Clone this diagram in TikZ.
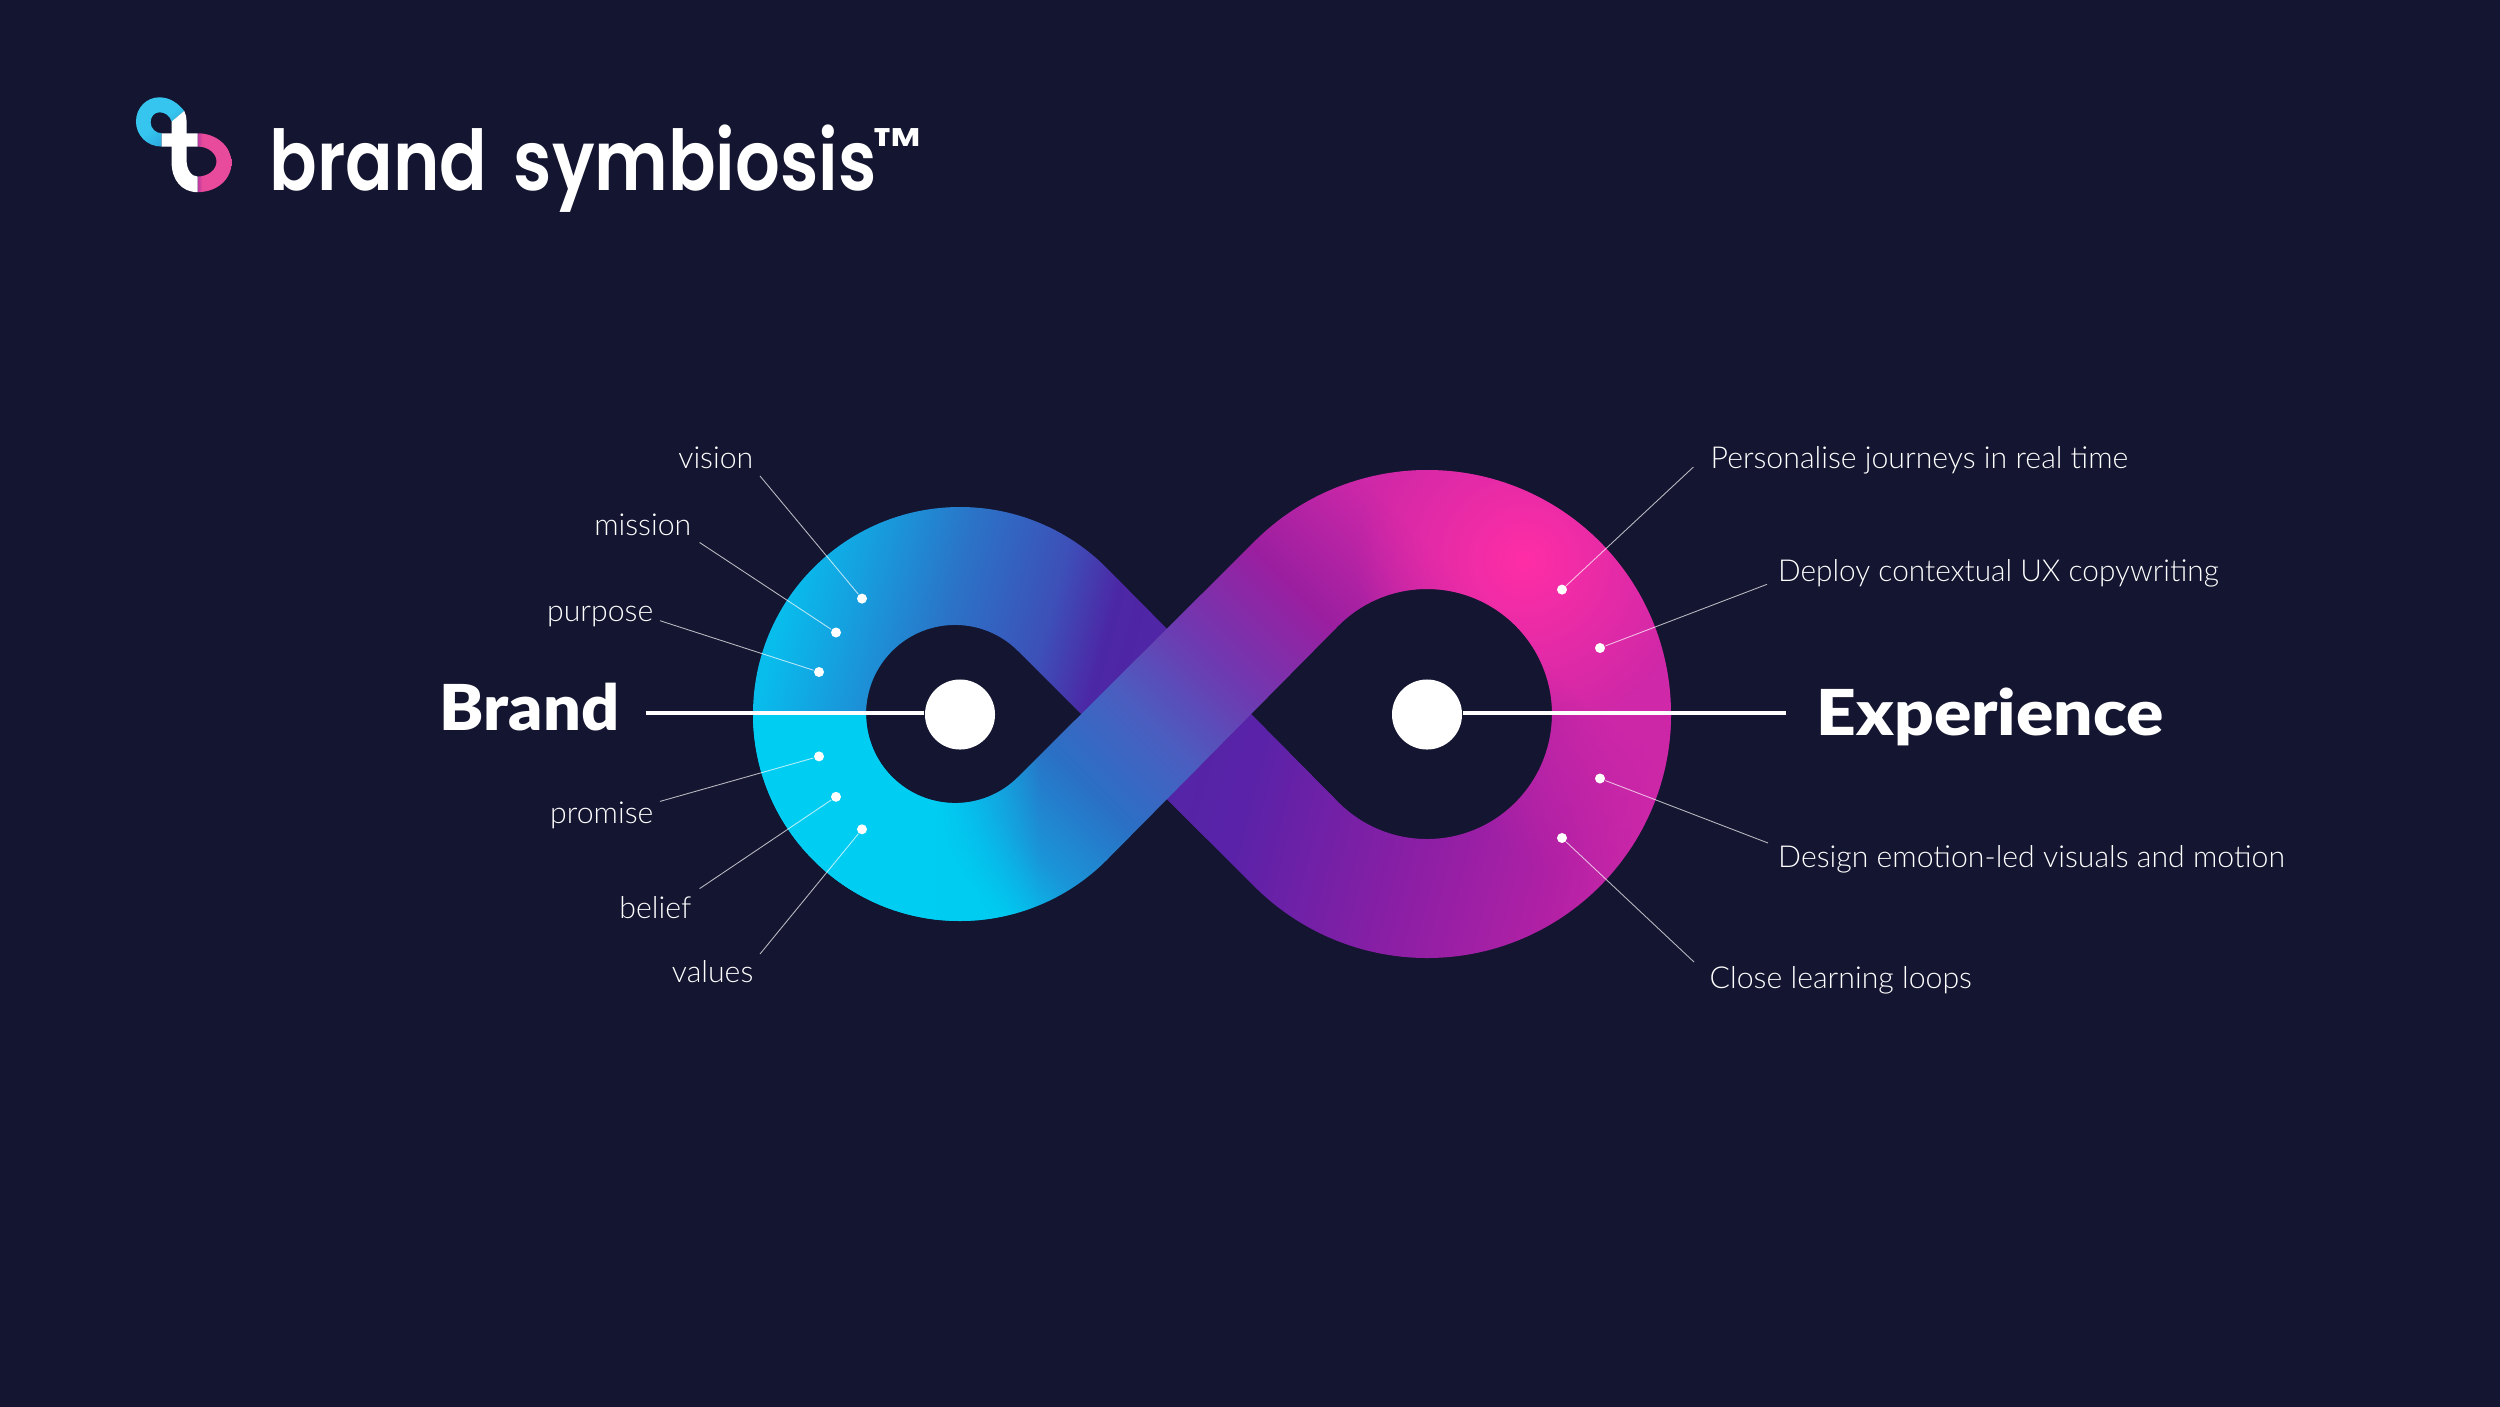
\documentclass[tikz,border=0pt]{standalone}
\usepackage{fontspec}
\usetikzlibrary{fadings}
\setmainfont{Lato}
\newfontfamily\labelfont{Lato Light}
\newfontfamily\headfont{Lato Black}
\newfontfamily\wordfont{Poppins SemiBold}
\definecolor{pageBg}{RGB}{20, 21, 48}
\definecolor{ribCyan}{HTML}{00CDF2}
\definecolor{ribCyanB}{HTML}{00C8EF}
\definecolor{ribSky}{HTML}{1A95D8}
\definecolor{ribBlue}{HTML}{2A70C5}
\definecolor{ribIndigo}{HTML}{4A5EC0}
\definecolor{ribViolet}{HTML}{7038B0}
\definecolor{ribPurple}{HTML}{9A1FA0}
\definecolor{ribMagenta}{HTML}{CF28A8}
\definecolor{ribHot}{HTML}{FF2EA6}
\definecolor{backCyan}{HTML}{08BCEC}
\definecolor{backSky}{HTML}{14A2E0}
\definecolor{backBlue}{HTML}{2A75C8}
\definecolor{backSlate}{HTML}{3D50B8}
\definecolor{backIndigo}{HTML}{4C27A5}
\definecolor{backDeep}{HTML}{5A22A8}
\definecolor{backPurple}{HTML}{8A1FA5}
\definecolor{backOrchid}{HTML}{B020A5}
\definecolor{logoCyan}{HTML}{35C5EE}
\definecolor{logoCyanB}{HTML}{2A9FD8}
\definecolor{logoPink}{HTML}{E84A9C}
\definecolor{logoPinkB}{HTML}{B83AA0}
\pgfdeclarehorizontalshading{frontribbon}{100bp}{color(0bp)=(ribCyan);
  color(40.5bp)=(ribCyan); color(42bp)=(ribCyanB); color(43.7bp)=(ribSky);
  color(45.8bp)=(ribBlue); color(48bp)=(ribIndigo); color(50.4bp)=(ribViolet);
  color(53bp)=(ribPurple); color(56.25bp)=(ribMagenta); color(100bp)=(ribMagenta)}
\pgfdeclarehorizontalshading{backribbon}{100bp}{color(0bp)=(backCyan);
  color(38bp)=(backCyan); color(39.5bp)=(backSky); color(41.9bp)=(backBlue);
  color(44.5bp)=(backSlate); color(46bp)=(backIndigo); color(50.5bp)=(backDeep);
  color(54.8bp)=(backPurple); color(58.4bp)=(backOrchid); color(60.75bp)=(ribMagenta);
  color(100bp)=(ribMagenta)}
\pgfdeclarehorizontalshading{logopink}{100bp}{color(0bp)=(logoPinkB);
  color(25bp)=(logoPinkB); color(32bp)=(logoPink); color(100bp)=(logoPink)}
\pgfdeclarehorizontalshading{logocyan}{100bp}{color(0bp)=(logoCyan);
  color(50bp)=(logoCyan); color(75bp)=(logoCyanB); color(100bp)=(logoCyanB)}
\tikzfading[name=hotglow, inner color=transparent!0, outer color=transparent!100]
\tikzfading[name=cyanfade, left color=transparent!0, right color=transparent!100]

\begin{document}
\begin{tikzpicture}[x=0.01cm, y=-0.01cm,
    dotmark/.style={circle, fill=white, inner sep=0pt, minimum size=0.1cm},
    hub/.style={circle, fill=white, inner sep=0pt, minimum size=0.7cm},
    leader/.style={draw=white, opacity=0.7, line width=0.25pt},
    mainline/.style={draw=white, line width=0.04cm},
    labeltext/.style={font=\labelfont\fontsize{8.6}{10}\selectfont, text=white, inner sep=0pt},
    headtext/.style={font=\headfont\fontsize{18}{20}\selectfont, text=white, inner sep=0pt}]
    % Page
    \useasboundingbox (0,0) rectangle (2500,1406);
    \fill[pageBg] (-20,-20) rectangle (2520,1426);

    % Back strand of the ribbon
    \begin{scope}
        \clip (753,714) arc[start angle=180, end angle=315, radius=207]
            -- (1338.6,802.4) arc[start angle=135, end angle=0, radius=125]
            -- (1671,714) arc[start angle=0, end angle=135, radius=244]
            -- (1018,651) arc[start angle=315, end angle=180, radius=89] -- cycle;
        \shade[shading=backribbon, shading angle=-15] (250,-286) rectangle (2250,1714);
        \fill[ribMagenta, path fading=hotglow] (1625,700) circle (190);
    \end{scope}

    % Front strand of the ribbon
    \begin{scope}
        \clip (753,714) arc[start angle=180, end angle=45, radius=207]
            -- (1338.6,625.6) arc[start angle=225, end angle=360, radius=125]
            -- (1671,714) arc[start angle=360, end angle=225, radius=244]
            -- (1018,777) arc[start angle=45, end angle=180, radius=89] -- cycle;
        \shade[shading=frontribbon, shading angle=45] (250,-286) rectangle (2250,1714);
        \fill[ribHot, path fading=hotglow] (1525,560) circle (170);
        \fill[ribCyan] (740,700) rectangle (936,940);
        \fill[ribCyan, path fading=cyanfade] (935,700) rectangle (1040,940);
    \end{scope}

    % Hubs and main lines
    \node[hub] (brandhub) at (960,714.5) {};
    \node[hub] (exphub) at (1427,714.5) {};
    \coordinate (brandend) at (645.5,712.5);
    \coordinate (expend) at (1786,712.5);
    \draw[mainline] (brandend) -- (brandend -| brandhub.west);
    \draw[mainline] (expend) -- (expend -| exphub.east);
    \node[headtext, anchor=base west] (brandlabel) at (439,730.5) {\scalebox{1.05}[1]{Brand}};
    \node[headtext, anchor=base west] (explabel) at (1816,735.5) {\scalebox{1.095}[1]{Experience}};

    % Brand side
    \node[dotmark] (visiondot) at (862,598.6) {};
    \node[dotmark] (missiondot) at (836,632.5) {};
    \node[dotmark] (purposedot) at (819,672) {};
    \node[dotmark] (promisedot) at (819,756.4) {};
    \node[dotmark] (beliefdot) at (836,796.8) {};
    \node[dotmark] (valuesdot) at (862,829.3) {};
    \coordinate (visionend) at (760,476);
    \coordinate (missionend) at (699.6,542.5);
    \coordinate (purposeend) at (660,620.7);
    \coordinate (promiseend) at (660,801.4);
    \coordinate (beliefend) at (699.6,888.6);
    \coordinate (valuesend) at (760,954);
    \draw[leader] (visiondot) -- (visionend);
    \draw[leader] (missiondot) -- (missionend);
    \draw[leader] (purposedot) -- (purposeend);
    \draw[leader] (promisedot) -- (promiseend);
    \draw[leader] (beliefdot) -- (beliefend);
    \draw[leader] (valuesdot) -- (valuesend);
    \node[labeltext, anchor=base east] (visionlabel) at (754,468.5) {vision};
    \node[labeltext, anchor=base east] (missionlabel) at (692,535.5) {mission};
    \node[labeltext, anchor=base east] (purposelabel) at (654,621) {purpose};
    \node[labeltext, anchor=base east] (promiselabel) at (654,823) {promise};
    \node[labeltext, anchor=base east] (belieflabel) at (692,918.5) {belief};
    \node[labeltext, anchor=base east] (valueslabel) at (754,982) {values};

    % Experience side
    \node[dotmark] (journeydot) at (1562,589.6) {};
    \node[dotmark] (copydot) at (1600,648) {};
    \node[dotmark] (designdot) at (1600,778.5) {};
    \node[dotmark] (loopdot) at (1562,838) {};
    \coordinate (journeyend) at (1693.4,467);
    \coordinate (copyend) at (1767,584.3);
    \coordinate (designend) at (1768,843);
    \coordinate (loopend) at (1694,962);
    \draw[leader] (journeydot) -- (journeyend);
    \draw[leader] (copydot) -- (copyend);
    \draw[leader] (designdot) -- (designend);
    \draw[leader] (loopdot) -- (loopend);
    \node[labeltext, anchor=base west] (journeylabel) at (1710,468.5) {Personalise journeys in real time};
    \node[labeltext, anchor=base west] (copylabel) at (1777.5,581.5) {\scalebox{0.985}[1]{Deploy contextual UX copywriting}};
    \node[labeltext, anchor=base west] (designlabel) at (1777.5,867.5) {Design emotion-led visuals and motion};
    \node[labeltext, anchor=base west] (looplabel) at (1709,988.5) {Close learning loops};

    % Logo mark
    \begin{scope}[shift={(125,85)}, x=0.00333cm, y=-0.00333cm]
        \shade[shading=logocyan, shading angle=-50] (110,185) .. controls (65,185) and (33,150) .. (33,110)
            .. controls (33,68) and (65,37) .. (103,37) .. controls (135,37) and (160,55) .. (178,78)
            -- (140,110) .. controls (135,92) and (120,82) .. (104,82) .. controls (88,82) and (77,95) .. (77,112)
            .. controls (77,130) and (92,145) .. (110,145) -- cycle;
        \shade[shading=logopink] (218,145) .. controls (275,145) and (320,185) .. (320,233)
            .. controls (320,285) and (275,322) .. (218,322) -- (218,275) .. controls (250,275) and (275,255) .. (275,230)
            .. controls (275,205) and (250,185) .. (218,185) -- cycle;
        \fill[white] (178,78) .. controls (183,88) and (185,98) .. (185,108) -- (185,145) -- (218,145) -- (218,185)
            -- (185,185) -- (185,225) .. controls (185,255) and (200,275) .. (218,275) -- (218,322)
            .. controls (170,322) and (140,285) .. (140,232) -- (140,185) -- (110,185) -- (110,145)
            -- (140,145) -- (140,110) -- cycle;
    \end{scope}

    % Wordmark
    \node[text=white, inner sep=0pt, anchor=base west, font=\wordfont\fontsize{23.8}{26}\selectfont] (wordmark) at (269,190) {\scalebox{0.84}[1]{brand\hspace{3.2pt} symbiosis}};
    \node[text=white, inner sep=0pt, anchor=base west, font=\wordfont\fontsize{14.5}{16}\selectfont] (trademark) at (873,164.7) {\scalebox{1.12}[1]{™}};
\end{tikzpicture}
\end{document}
